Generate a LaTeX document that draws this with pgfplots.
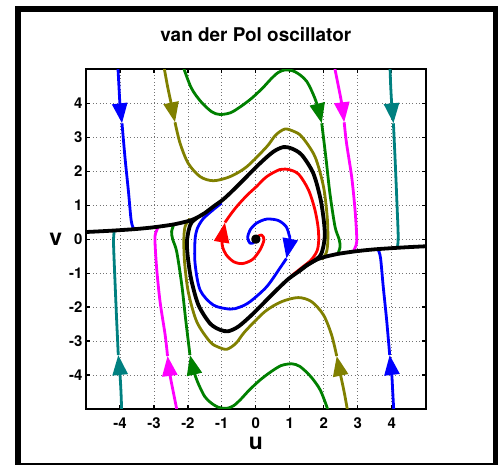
\documentclass[border=0pt]{standalone}
\usepackage{fontspec}
\setmainfont{TeX Gyre Heros}
\usepackage{pgfplots}
\pgfplotsset{compat=1.18}
\usetikzlibrary{arrows.meta}
\definecolor{mblue}{rgb}{0,0,1}
\definecolor{mred}{rgb}{1,0,0}
\definecolor{molive}{rgb}{0.5,0.5,0}
\definecolor{mgreen}{rgb}{0,0.5,0}
\definecolor{mmag}{rgb}{1,0,1}
\definecolor{mteal}{rgb}{0,0.5,0.5}
\tikzset{arr/.style={-{Triangle[length=20bp,width=15bp]}}}
\begin{document}
\begin{tikzpicture}
\begin{axis}[
  at={(86bp,56bp)}, anchor=south west,
  width=339.7bp, height=339.7bp, scale only axis,
  xmin=-5, xmax=5, ymin=-5, ymax=5,
  xtick={-4,...,4}, ytick={-4,...,4},
  xticklabels={-4,-3,-2,-1,0,1,2,3,4},
  yticklabels={-4,-3,-2,-1,0,1,2,3,4},
  tick pos=both, xticklabel pos=lower, yticklabel pos=left,
  tick align=inside, major tick length=4bp,
  tick style={black, line width=1.2bp},
  axis line style={line width=2.4bp},
  grid=major,
  major grid style={black!55, line width=0.8bp, dash pattern=on 0.8bp off 2.6bp},
  xticklabel style={font=\bfseries\fontsize{15}{15}\selectfont, anchor=north, inner sep=0pt, yshift=-8.8bp},
  yticklabel style={font=\bfseries\fontsize{15}{15}\selectfont, anchor=east, inner sep=0pt, xshift=-3.3bp},
  title={van der Pol oscillator},
  title style={font=\bfseries\fontsize{19}{19}\selectfont, at={(axis description cs:0.5,1)}, anchor=base, inner sep=0pt, yshift=22bp},
  xlabel={u}, ylabel={v},
  xlabel style={font=\bfseries\fontsize{23}{23}\selectfont, at={(axis description cs:0.5,-0.1024)}, anchor=center, inner sep=0pt},
  ylabel style={font=\bfseries\fontsize{23}{23}\selectfont, rotate=-90, at={(axis description cs:-0.0889,0.5)}, anchor=center, inner sep=0pt},
  no markers,
  every axis plot/.append style={smooth, tension=0.5, line width=2.8bp, line join=round},
]
% blue, outer left and right
\addplot[mblue, arr] coordinates {(-4.06,5.05) (-4.03,4.5) (-4.0,3.97) (-3.94,3.41)};
\addplot[mblue] coordinates {(-3.94,3.41) (-3.85,2.38) (-3.75,1.40) (-3.67,0.55) (-3.60,0.31)};
\addplot[mblue, arr] coordinates {(4.06,-5.05) (4.03,-4.5) (4.0,-3.97) (3.94,-3.41)};
\addplot[mblue] coordinates {(3.94,-3.41) (3.85,-2.38) (3.75,-1.40) (3.67,-0.55) (3.60,-0.31)};
% teal
\addplot[mteal, arr] coordinates {(3.95,5.05) (3.97,4.5) (4.0,3.97) (4.05,3.41)};
\addplot[mteal] coordinates {(4.05,3.41) (4.10,2.33) (4.15,1.15) (4.19,0.10) (4.17,-0.22)};
\addplot[mteal, arr] coordinates {(-3.95,-5.05) (-3.97,-4.5) (-4.0,-3.97) (-4.05,-3.41)};
\addplot[mteal] coordinates {(-4.05,-3.41) (-4.10,-2.33) (-4.15,-1.15) (-4.19,-0.10) (-4.17,0.22)};
% magenta
\addplot[mmag, arr] coordinates {(2.32,5.05) (2.43,4.5) (2.53,3.98) (2.60,3.44)};
\addplot[mmag] coordinates {(2.60,3.44) (2.67,2.82) (2.82,1.84) (2.92,0.86) (2.97,0.05) (2.95,-0.18) (2.88,-0.34)};
\addplot[mmag, arr] coordinates {(-2.32,-5.05) (-2.43,-4.5) (-2.53,-3.98) (-2.60,-3.44)};
\addplot[mmag] coordinates {(-2.60,-3.44) (-2.67,-2.82) (-2.82,-1.84) (-2.92,-0.86) (-2.97,-0.05) (-2.95,0.18) (-2.88,0.34)};
% green
\addplot[mgreen, arr] coordinates {(-2.13,5.05) (-1.90,4.45) (-1.62,4.05) (-1.30,3.75) (-1.06,3.67) (-0.75,3.72) (-0.45,3.90) (-0.12,4.15) (0.20,4.45) (0.45,4.72) (0.65,4.90) (0.85,4.98) (1.10,4.95) (1.32,4.82) (1.50,4.64) (1.66,4.33) (1.80,3.97) (1.94,3.41)};
\addplot[mgreen] coordinates {(1.94,3.41) (2.07,2.33) (2.18,1.35) (2.33,0.37) (2.45,0.0) (2.48,-0.22) (2.42,-0.42)};
\addplot[mgreen, arr] coordinates {(2.13,-5.05) (1.90,-4.45) (1.62,-4.05) (1.30,-3.75) (1.06,-3.67) (0.75,-3.72) (0.45,-3.90) (0.12,-4.15) (-0.20,-4.45) (-0.45,-4.72) (-0.65,-4.90) (-0.85,-4.98) (-1.10,-4.95) (-1.32,-4.82) (-1.50,-4.64) (-1.66,-4.33) (-1.80,-3.97) (-1.94,-3.41)};
\addplot[mgreen] coordinates {(-1.94,-3.41) (-2.07,-2.33) (-2.18,-1.35) (-2.33,-0.37) (-2.45,0.0) (-2.48,0.22) (-2.42,0.42)};
% olive
\addplot[molive, arr] coordinates {(-2.70,5.05) (-2.60,4.5) (-2.49,3.98) (-2.38,3.44)};
\addplot[molive] coordinates {(-2.38,3.44) (-2.23,2.82) (-1.99,2.23) (-1.64,1.84) (-1.25,1.72) (-0.76,1.84) (-0.27,2.13) (0.32,2.72) (0.58,3.06) (0.85,3.24) (1.10,3.18) (1.35,3.02) (1.74,2.43) (1.99,1.55) (2.10,0.66) (2.12,0.0) (2.08,-0.38) (1.94,-0.60)};
\addplot[molive, arr] coordinates {(2.70,-5.05) (2.60,-4.5) (2.49,-3.98) (2.38,-3.44)};
\addplot[molive] coordinates {(2.38,-3.44) (2.23,-2.82) (1.99,-2.23) (1.64,-1.84) (1.25,-1.72) (0.76,-1.84) (0.27,-2.13) (-0.32,-2.72) (-0.58,-3.06) (-0.85,-3.24) (-1.10,-3.18) (-1.35,-3.02) (-1.74,-2.43) (-1.99,-1.55) (-2.10,-0.66) (-2.12,0.0) (-2.08,0.38) (-1.94,0.60)};
% red spiral
\addplot[mred, arr] coordinates {(0.03,0.07) (0.17,0.12) (0.24,-0.02) (0.12,-0.32) (-0.10,-0.60) (-0.40,-0.72) (-0.66,-0.66) (-0.88,-0.45) (-0.98,-0.22) (-0.99,-0.02) (-0.91,0.49)};
\addplot[mred] coordinates {(-0.91,0.49) (-0.72,0.76) (-0.52,1.01) (-0.25,1.30) (0.02,1.55) (0.32,1.84) (0.71,2.05) (1.0,2.04) (1.27,1.90) (1.55,1.45) (1.73,0.90) (1.83,0.37) (1.85,-0.05) (1.80,-0.35) (1.62,-0.62) (1.35,-0.84) (1.05,-1.08)};
% blue spiral
\addplot[mblue, arr] coordinates {(-0.05,-0.10) (-0.17,-0.12) (-0.24,0.04) (-0.17,0.27) (0.02,0.47) (0.32,0.59) (0.66,0.55) (0.89,0.37) (0.98,0.12) (1.0,-0.02) (0.90,-0.57)};
\addplot[mblue] coordinates {(0.90,-0.57) (0.71,-0.85) (0.32,-1.40) (-0.17,-1.84) (-0.47,-2.0) (-0.76,-2.06) (-1.25,-1.94) (-1.64,-1.50) (-1.79,-0.71) (-1.79,-0.02) (-1.72,0.32) (-1.55,0.60) (-1.25,0.87) (-1.01,1.06)};
% limit cycle and its two incoming branches
\addplot[black, line width=3.8bp] coordinates {(-5.1,0.205) (-4.5,0.235) (-4,0.265) (-3.5,0.30) (-3,0.35) (-2.5,0.42) (-2.2,0.48) (-1.9,0.56) (-1.70,0.65) (-1.50,0.77) (-1.25,0.96) (-0.96,1.17) (-0.66,1.45) (-0.27,1.84) (0.12,2.23) (0.51,2.57) (0.81,2.71) (1.05,2.67) (1.35,2.48) (1.69,1.94) (1.90,1.20) (2.00,0.55) (2.03,0.10) (1.98,-0.25) (1.90,-0.48) (1.70,-0.65) (1.50,-0.77) (1.25,-0.96) (0.96,-1.17) (0.66,-1.45) (0.27,-1.84) (-0.12,-2.23) (-0.51,-2.57) (-0.81,-2.71) (-1.05,-2.67) (-1.35,-2.48) (-1.69,-1.94) (-1.90,-1.20) (-2.00,-0.55) (-2.03,-0.10) (-1.98,0.25) (-1.90,0.48) (-1.70,0.65) (-1.50,0.77) (-1.25,0.96)};
\addplot[black, line width=3.8bp] coordinates {(5.1,-0.205) (4.5,-0.235) (4,-0.265) (3.5,-0.30) (3,-0.35) (2.5,-0.42) (2.2,-0.48) (1.9,-0.56) (1.70,-0.65) (1.50,-0.77) (1.25,-0.96)};
\addplot[black, only marks, mark=*, mark size=3.3bp] coordinates {(0,0)};
\end{axis}
\draw[line width=6bp] (18bp,-0.7bp) rectangle (495.7bp,456bp);
\pgfresetboundingbox
\path[use as bounding box] (0,0) rectangle (498bp,465bp);
\end{tikzpicture}
\end{document}
